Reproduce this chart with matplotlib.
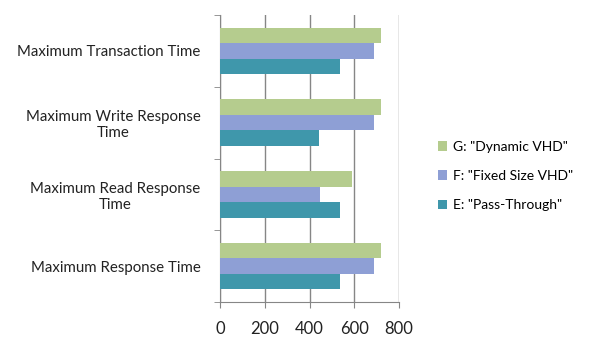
import numpy as np
import matplotlib
matplotlib.use('Agg')
import matplotlib.pyplot as plt

plt.rcParams['font.family'] = ['Lato', 'DejaVu Sans']

categories = ['Maximum Response Time', 'Maximum Read Response\nTime',
              'Maximum Write Response\nTime', 'Maximum Transaction Time']
series = ['E: "Pass-Through"', 'F: "Fixed Size VHD"', 'G: "Dynamic VHD"']
pass_through = [538, 538, 443, 538]
fixed_vhd = [688, 448, 688, 688]
dynamic_vhd = [718, 589, 718, 718]
colors = ['#3F97AB', '#8E9FD5', '#B5CC8E']
xticks = [0, 200, 400, 600, 800]

fig = plt.figure(figsize=(5.94, 3.55), dpi=100)
ax = fig.add_axes([220/594, 1 - 302/355, 179/594, 287/355])

y = np.arange(len(categories))
h = 0.215
handles = []
for i, (vals, c, lab) in enumerate(zip([pass_through, fixed_vhd, dynamic_vhd], colors, series)):
    b = ax.barh(y + (i - 1) * h, vals, h, color=c, label=lab, zorder=3)
    handles.append(b)

ax.set_xlim(0, 800)
ax.set_ylim(-0.5, 3.5)
ax.set_xticks(xticks)
ax.set_yticks(y)
ax.set_yticklabels(categories, fontsize=10.8, color='#222222', multialignment='center')
ax.set_yticks(np.arange(-0.5, 4, 1), minor=True)
ax.tick_params(axis='y', which='major', length=0, pad=14)
ax.tick_params(axis='y', which='minor', length=4, color='#868686')
ax.tick_params(axis='x', length=4, color='#868686', labelsize=12, pad=10)
for lab in ax.get_xticklabels():
    lab.set_color('#222222')
ax.grid(axis='x', color='#868686', lw=1, zorder=0)
for s in ['top', 'right']:
    ax.spines[s].set_visible(False)
for s in ['left', 'bottom']:
    ax.spines[s].set_color('#868686')

fig.legend(handles[::-1], series[::-1], loc='center left',
           bbox_to_anchor=(425/594, 1 - 176/355), frameon=False,
           fontsize=10, handlelength=0.7, handleheight=0.7,
           handletextpad=0.4, labelspacing=1.25)

plt.savefig('out.png', dpi=100)
plt.close()
